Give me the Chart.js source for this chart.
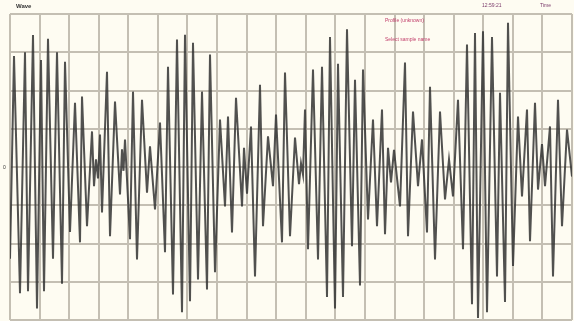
<!DOCTYPE html>
<html>
<head>
<meta charset="utf-8">
<script src="https://cdn.jsdelivr.net/npm/chart.js@4"></script>
<style>
  html, body { margin: 0; padding: 0; background: #fefcf2; }
  #wrap { position: relative; width: 574px; height: 321px; overflow: hidden; background: #fefcf2; }
  canvas { position: absolute; left: 0; top: 0; }
  .lbl { position: absolute; font-family: "Liberation Sans", Arial, sans-serif; white-space: nowrap; line-height: 1; }
</style>
</head>
<body>
<div id="wrap">
  <canvas id="c" width="574" height="321"></canvas>
  <span class="lbl" style="left:16px;top:3px;font-size:6px;font-weight:bold;color:#333;">Wave</span>
  <span class="lbl" style="left:385px;top:18px;font-size:5px;color:#c2406c;">Profile (unknown)</span>
  <span class="lbl" style="left:385px;top:37px;font-size:5px;color:#c2406c;">Select sample name</span>
  <span class="lbl" style="left:482px;top:3px;font-size:5px;color:#7a3a6a;">12:59:21</span>
  <span class="lbl" style="left:540px;top:3px;font-size:5px;color:#7a3a6a;">Time</span>
  <span class="lbl" style="left:3px;top:165px;font-size:5px;color:#333;">0</span>
</div>
<script>
// Recorded trace: sample number and amplitude (divisions) of each swing
const sampleNo = [
  0, 4, 10, 15, 18, 23, 27, 31, 34, 38,
  43, 47, 52, 55, 60, 65, 70, 72, 77, 82,
  84, 86, 88, 90, 92, 97, 100, 105, 110, 112,
  113.5, 115, 120, 123, 127, 132, 137, 140, 145, 150,
  155, 158, 163, 167, 172, 175, 180, 183, 188, 192,
  197, 200, 205, 210, 215, 218, 222, 226, 232, 234,
  237, 241, 245, 250, 253, 258, 263, 266, 272, 275,
  280, 285, 289, 291, 293, 295, 298, 303, 308, 312,
  317, 320, 325, 328, 333, 337, 342, 345, 350, 353,
  358, 363, 367, 372, 375, 378, 381, 384, 390, 395,
  398, 403, 408, 412, 417, 420, 425, 430, 435, 439,
  443, 448, 453, 457, 462, 465, 468, 473, 477, 482,
  487, 490, 495, 498, 503, 508, 512, 517, 520, 525,
  528, 532, 535, 540, 543, 548, 552, 557, 562
];
const amplitude = [
  -2.4, 2.9, -3.3, 3.0, -3.25, 3.45, -3.7, 2.8, -3.25, 3.35,
  -2.4, 3.0, -3.05, 2.75, -1.7, 1.68, -1.97, 1.84, -1.55, 0.93,
  -0.5, 0.2, -0.3, 0.85, -1.19, 2.49, -1.81, 1.71, -0.72, 0.46,
  -0.1, 0.72, -1.89, 1.97, -2.42, 1.76, -0.67, 0.54, -1.11, 1.16,
  -2.23, 2.62, -3.33, 3.33, -3.8, 3.46, -3.51, 3.25, -2.94, 1.97,
  -3.2, 2.94, -2.75, 1.24, -1.03, 1.32, -1.71, 1.81, -1.03, 0.5,
  -0.7, 1.06, -2.86, 2.15, -1.55, 0.8, -0.5, 1.37, -1.97, 2.47,
  -1.81, 0.77, -0.45, 0.1, -0.2, 1.5, -2.15, 2.55, -2.42, 2.62,
  -3.4, 3.4, -3.7, 2.7, -3.4, 3.6, -2.07, 2.28, -3.1, 2.55,
  -1.37, 1.24, -1.55, 1.5, -1.76, 0.5, -0.4, 0.45, -1.03, 2.73,
  -1.81, 1.45, -0.5, 0.72, -1.71, 2.1, -2.42, 1.45, -0.85, 0.2,
  -0.77, 1.76, -2.15, 3.2, -3.59, 3.5, -3.95, 3.55, -3.8, 3.4,
  -2.86, 1.94, -3.53, 3.77, -2.59, 1.32, -0.77, 1.5, -1.94, 1.68,
  -0.59, 0.6, -0.5, 1.06, -2.86, 1.76, -1.55, 0.98, -0.25
];

// Screen layout: 19 time divisions, 8 amplitude divisions
const timeSpan = 562;
const timeDivisions = 19;
const ampMin = -4, ampMax = 4;

const points = sampleNo.map((t, i) => ({ x: t, y: amplitude[i] }));

const gridColor = '#c4bfb3';

new Chart(document.getElementById('c'), {
  type: 'line',
  data: {
    datasets: [{
      data: points,
      borderColor: 'rgba(50,50,50,0.85)',
      borderWidth: 2,
      pointRadius: 0,
      tension: 0,
      fill: false
    }]
  },
  options: {
    responsive: false,
    animation: false,
    events: [],
    layout: { padding: { left: 10, right: 2, top: 14, bottom: 1 } },
    plugins: { legend: { display: false }, tooltip: { enabled: false } },
    scales: {
      x: {
        type: 'linear',
        min: 0,
        max: timeSpan,
        afterBuildTicks: (scale) => {
          const ticks = [];
          for (let i = 0; i <= timeDivisions; i++) ticks.push({ value: i * timeSpan / timeDivisions });
          scale.ticks = ticks;
        },
        ticks: { display: false },
        border: { display: false },
        grid: { color: gridColor, lineWidth: 2, drawTicks: false }
      },
      y: {
        min: ampMin,
        max: ampMax,
        ticks: { display: false, stepSize: 1 },
        border: { display: false },
        grid: { color: gridColor, lineWidth: 2, drawTicks: false }
      }
    }
  }
});
</script>
</body>
</html>
